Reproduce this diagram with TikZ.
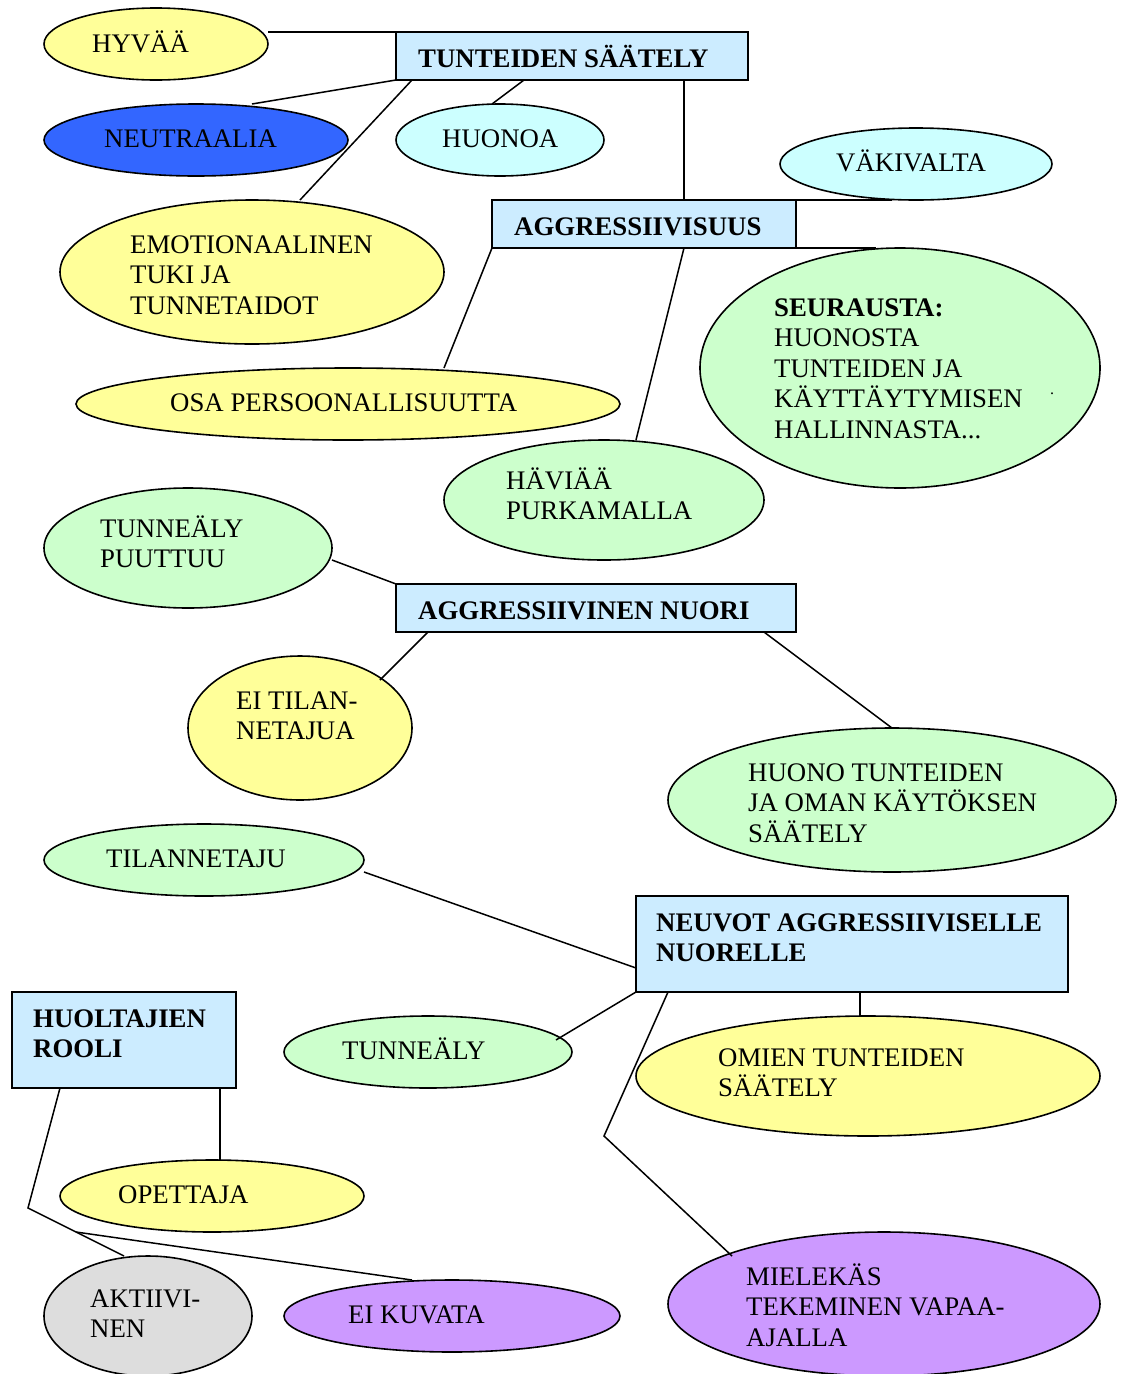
\documentclass[tikz,border=0pt]{standalone}
\usepackage{fontspec}
\setmainfont{Liberation Serif}
\usetikzlibrary{shapes.geometric,calc}
\definecolor{cyel}{HTML}{FFFF99}
\definecolor{cblue}{HTML}{3366FF}
\definecolor{ccyan}{HTML}{CCFFFF}
\definecolor{cgreen}{HTML}{CCFFCC}
\definecolor{cbox}{HTML}{CCECFF}
\definecolor{cgray}{HTML}{DDDDDD}
\definecolor{cpurp}{HTML}{CC99FF}
\begin{document}
\begin{tikzpicture}[x=1pt,y=-1pt,
  ell/.style={ellipse,draw=black,line width=1.6pt,inner sep=0pt,outer sep=0pt},
  bx/.style={rectangle,draw=black,line width=1.8pt,fill=cbox,inner sep=0pt,outer sep=0pt,anchor=north west},
  txt/.style={anchor=base west,inner sep=0pt,font=\fontsize{26.8}{30.5}\selectfont},
  btxt/.style={anchor=base west,inner sep=0pt,font=\fontsize{26.8}{30.5}\selectfont\bfseries},
  conn/.style={line width=1.5pt}]
\useasboundingbox (0,0) rectangle (1121,1374);
\fill[white] (0,0) rectangle (1121,1374);
% ellipses
\node[ell,fill=cyel,minimum width=224pt,minimum height=72pt] (hyvaa) at (156,44) {};
\node[ell,fill=cblue,minimum width=304pt,minimum height=72pt] (neut) at (196,140) {};
\node[ell,fill=ccyan,minimum width=208pt,minimum height=72pt] (huonoa) at (500,140) {};
\node[ell,fill=ccyan,minimum width=272pt,minimum height=72pt] (vak) at (916,164) {};
\node[ell,fill=cyel,minimum width=384pt,minimum height=144pt] (emo) at (252,272) {};
\node[ell,fill=cyel,minimum width=544pt,minimum height=72pt] (osa) at (348,404) {};
\node[ell,fill=cgreen,minimum width=400pt,minimum height=240pt] (seur) at (900,368) {};
\node[ell,fill=cgreen,minimum width=320pt,minimum height=120pt] (hav) at (604,500) {};
\node[ell,fill=cgreen,minimum width=288pt,minimum height=120pt] (tp) at (188,548) {};
\node[ell,fill=cyel,minimum width=224pt,minimum height=144pt] (eit) at (300,728) {};
\node[ell,fill=cgreen,minimum width=448pt,minimum height=144pt] (ht) at (892,800) {};
\node[ell,fill=cgreen,minimum width=320pt,minimum height=72pt] (tila) at (204,860) {};
\node[ell,fill=cgreen,minimum width=288pt,minimum height=72pt] (tunn) at (428,1052) {};
\node[ell,fill=cyel,minimum width=464pt,minimum height=120pt] (omien) at (868,1076) {};
\node[ell,fill=cyel,minimum width=304pt,minimum height=72pt] (opet) at (212,1196) {};
\node[ell,fill=cgray,minimum width=208pt,minimum height=120pt] (akt) at (148,1316) {};
\node[ell,fill=cpurp,minimum width=336pt,minimum height=72pt] (eik) at (452,1316) {};
\node[ell,fill=cpurp,minimum width=432pt,minimum height=144pt] (miel) at (884,1304) {};
% boxes
\node[bx,minimum width=352pt,minimum height=48pt] (tsaat) at (396,32) {};
\node[bx,minimum width=304pt,minimum height=48pt] (aggr) at (492,200) {};
\node[bx,minimum width=400pt,minimum height=48pt] (anuori) at (396,584) {};
\node[bx,minimum width=432pt,minimum height=96pt] (neuvot) at (636,896) {};
\node[bx,minimum width=224pt,minimum height=96pt] (huolt) at (12,992) {};
% texts
\node[txt] (hyvaa-t) at (92,52) {HYVÄÄ};
\node[btxt] (tsaat-t) at (418,67) {TUNTEIDEN SÄÄTELY};
\node[txt] (neut-t) at (104,147) {NEUTRAALIA};
\node[txt] (huonoa-t) at (442,147) {HUONOA};
\node[txt] (vak-t) at (836,171) {VÄKIVALTA};
\node[btxt] (aggr-t) at (514,235) {AGGRESSIIVISUUS};
\node[txt] (emo-t) at (130,253) {\vtop{\hbox{EMOTIONAALINEN}\hbox{TUKI JA}\hbox{TUNNETAIDOT}}};
\node[txt] (seur-t) at (774,316) {\vtop{\hbox{\bfseries SEURAUSTA:}\hbox{HUONOSTA}\hbox{TUNTEIDEN JA}\hbox{KÄYTTÄYTYMISEN}\hbox{HALLINNASTA...}}};
\node[inner sep=0pt,anchor=base,font=\fontsize{16}{18}\selectfont] (seur-dot) at (1052,394) {.};
\node[txt] (osa-t) at (170,411) {OSA PERSOONALLISUUTTA};
\node[txt] (hav-t) at (506,489) {\vtop{\hbox{HÄVIÄÄ}\hbox{PURKAMALLA}}};
\node[txt] (tp-t) at (100,537) {\vtop{\hbox{TUNNEÄLY}\hbox{PUUTTUU}}};
\node[btxt] (anuori-t) at (418,619) {AGGRESSIIVINEN NUORI};
\node[txt] (eit-t) at (236,709) {\vtop{\hbox{EI TILAN-}\hbox{NETAJUA}}};
\node[txt] (ht-t) at (748,781) {\vtop{\hbox{HUONO TUNTEIDEN}\hbox{JA OMAN KÄYTÖKSEN}\hbox{SÄÄTELY}}};
\node[txt] (tila-t) at (106,867) {TILANNETAJU};
\node[btxt] (neuvot-t) at (656,931) {\vtop{\hbox{NEUVOT AGGRESSIIVISELLE}\hbox{NUORELLE}}};
\node[btxt] (huolt-t) at (33,1027) {\vtop{\hbox{HUOLTAJIEN}\hbox{ROOLI}}};
\node[txt] (tunn-t) at (342,1059) {TUNNEÄLY};
\node[txt] (omien-t) at (718,1066) {\vtop{\hbox{OMIEN TUNTEIDEN}\hbox{SÄÄTELY}}};
\node[txt] (opet-t) at (118,1203) {OPETTAJA};
\node[txt] (akt-t) at (90,1307) {\vtop{\hbox{AKTIIVI-}\hbox{NEN}}};
\node[txt] (eik-t) at (348,1323) {EI KUVATA};
\node[txt] (miel-t) at (746,1285) {\vtop{\hbox{MIELEKÄS}\hbox{TEKEMINEN VAPAA-}\hbox{AJALLA}}};
% connectors
\draw[conn] ($(hyvaa.east)+(0,-12)$) -- (tsaat.north west);
\draw[conn] ($(neut.center)+(56,-36)$) -- (tsaat.south west);
\draw[conn] ($(emo.center)+(48,-72)$) -- ($(tsaat.south west)+(16,0)$);
\draw[conn] ($(huonoa.center)+(-8,-36)$) -- ($(tsaat.south west)+(128,0)$);
\draw[conn] ($(tsaat.south west)+(288,0)$) -- ($(aggr.north west)+(192,0)$);
\draw[conn] (aggr.north east) -- ($(vak.center)+(-24,36)$);
\draw[conn] (aggr.south east) -- ($(seur.center)+(-24,-120)$);
\draw[conn] (aggr.south west) -- ($(osa.center)+(96,-36)$);
\draw[conn] ($(aggr.south west)+(192,0)$) -- ($(hav.center)+(32,-60)$);
\draw[conn] ($(tp.center)+(144,12)$) -- (anuori.north west);
\draw[conn] ($(eit.center)+(80,-48)$) -- ($(anuori.south west)+(32,0)$);
\draw[conn] ($(anuori.south east)+(-32,0)$) -- (ht.north);
\draw[conn] ($(tila.center)+(160,12)$) -- ($(neuvot.south west)+(0,-24)$);
\draw[conn] ($(tunn.center)+(128,-12)$) -- (neuvot.south west);
\draw[conn] ($(neuvot.south west)+(224,0)$) -- ($(omien.north)+(-8,0)$);
\coordinate (mbend) at (604,1136);
\draw[conn] ($(neuvot.south west)+(32,0)$) -- (mbend) -- ($(miel.center)+(-152,-48)$);
\draw[conn] ($(huolt.south west)+(208,0)$) -- ($(opet.north)+(8,0)$);
\coordinate (hbend1) at (28,1208);
\coordinate (hbend2) at (76,1232);
\draw[conn] ($(huolt.south west)+(48,0)$) -- (hbend1) -- (hbend2) -- ($(akt.center)+(-24,-60)$);
\draw[conn] (hbend2) -- ($(eik.center)+(-40,-36)$);
\end{tikzpicture}
\end{document}
